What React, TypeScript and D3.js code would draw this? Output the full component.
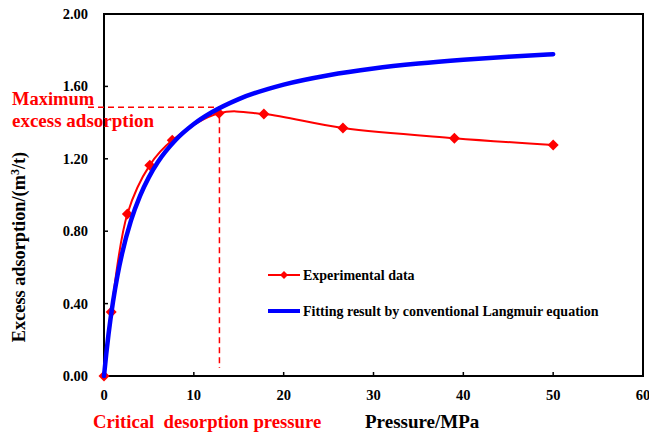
import React from "react";
import * as d3 from "d3";

const expPressure = [0, 0.8, 2.6, 5.1, 7.6, 12.8, 17.8, 26.6, 39.0, 50.0];
const expAdsorption = [0, 0.354, 0.895, 1.165, 1.302, 1.452, 1.447, 1.37, 1.314, 1.276];

const fitPressure = [0, 0.25, 0.5, 1, 1.5, 2, 3, 4, 5, 6, 8, 10, 12, 15, 20, 25, 30, 35, 40, 45, 50];
const fitAdsorption = [0, 0.122, 0.23, 0.41, 0.555, 0.674, 0.858, 0.994, 1.099, 1.182, 1.305, 1.392, 1.457, 1.53, 1.61, 1.662, 1.699, 1.726, 1.747, 1.764, 1.778];

const xTicks = [0, 10, 20, 30, 40, 50, 60];
const yTicks = [0, 0.4, 0.8, 1.2, 1.6, 2.0];

const critical = { p: 12.85, v: 1.485 };

const W = 649;
const H = 434;
const M = { left: 104, right: 6, top: 14, bottom: 58 };
const FONT = "Liberation Serif, Times New Roman, DejaVu Serif, serif";

export default function App() {
  const x = d3.scaleLinear().domain([0, 60]).range([M.left, W - M.right]);
  const y = d3.scaleLinear().domain([0, 2]).range([H - M.bottom, M.top]);

  const expData = expPressure.map((p, i) => [p, expAdsorption[i]] as [number, number]);
  const fitData = fitPressure.map((p, i) => [p, fitAdsorption[i]] as [number, number]);

  const redLine = d3
    .line<[number, number]>()
    .x((d) => x(d[0]))
    .y((d) => y(d[1]))
    .curve(d3.curveCatmullRom.alpha(0.5))(expData)!;
  const blueLine = d3
    .line<[number, number]>()
    .x((d) => x(d[0]))
    .y((d) => y(d[1]))
    .curve(d3.curveMonotoneX)(fitData)!;

  const diamond = (cx: number, cy: number, r: number) =>
    `M${cx},${cy - r}L${cx + r},${cy}L${cx},${cy + r}L${cx - r},${cy}Z`;

  const x0 = x(0);
  const y0 = y(0);
  const ts = { fontFamily: FONT, fontWeight: 700 } as React.CSSProperties;

  return (
    <svg
      width={W}
      height={H}
      style={{ position: "absolute", left: 0, top: 0, background: "#fff", fontFamily: FONT, fontWeight: 700 }}
    >
      <rect x={0} y={0} width={W} height={H} fill="#fff" />
      <rect
        x={x(0)}
        y={y(2)}
        width={x(60) - x(0)}
        height={y(0) - y(2)}
        fill="none"
        stroke="#000"
        strokeWidth={2}
      />
      {xTicks.map((t) => (
        <g key={"xt" + t}>
          <line x1={x(t)} x2={x(t)} y1={y0} y2={y0 - 4} stroke="#000" strokeWidth={1.5} />
          <text x={x(t)} y={y0 + 24} textAnchor="middle" fontSize={14.5} fill="#000" style={ts}>
            {t}
          </text>
        </g>
      ))}
      {yTicks.map((t) => (
        <g key={"yt" + t}>
          <line x1={x0} x2={x0 + 4} y1={y(t)} y2={y(t)} stroke="#000" strokeWidth={1.5} />
          <text x={x0 - 16} y={y(t) + 5} textAnchor="end" fontSize={14.5} fill="#000" style={ts}>
            {t.toFixed(2)}
          </text>
        </g>
      ))}
      <line
        x1={88}
        x2={x(critical.p)}
        y1={y(critical.v)}
        y2={y(critical.v)}
        stroke="#ff0000"
        strokeWidth={1.5}
        strokeDasharray="6,4"
      />
      <line
        x1={x(critical.p)}
        x2={x(critical.p)}
        y1={y(critical.v)}
        y2={y0 - 8}
        stroke="#ff0000"
        strokeWidth={1.5}
        strokeDasharray="6,4"
      />
      <path d={redLine} fill="none" stroke="#ff0000" strokeWidth={2} />
      {expData.map((d, i) => (
        <path key={"m" + i} d={diamond(x(d[0]), y(d[1]), 5.5)} fill="#ff0000" />
      ))}
      <path d={blueLine} fill="none" stroke="#0000ff" strokeWidth={4.5} strokeLinecap="round" />
      <line x1={268} x2={300} y1={275} y2={275} stroke="#ff0000" strokeWidth={2} />
      <path d={diamond(284, 275, 4)} fill="#ff0000" />
      <text x={303} y={280} fontSize={14} fill="#000" style={ts}>
        Experimental data
      </text>
      <line x1={268} x2={300} y1={311} y2={311} stroke="#0000ff" strokeWidth={4} />
      <text x={303} y={316} fontSize={14} fill="#000" style={ts}>
        Fitting result by conventional Langmuir equation
      </text>
      <text x={12} y={105} fontSize={18.5} fill="#ff0000" style={ts}>
        Maximum
      </text>
      <text x={12} y={127} fontSize={19} fill="#ff0000" style={ts}>
        excess adsorption
      </text>
      <text x={93} y={428} fontSize={18.7} fill="#ff0000" style={ts} xmlSpace="preserve">
        Critical  desorption pressure
      </text>
      <text x={365} y={428} fontSize={19} fill="#000" style={ts}>
        Pressure/MPa
      </text>
      <text
        transform={`translate(25,${(y(0) + y(2)) / 2 + 52}) rotate(-90)`}
        textAnchor="middle"
        fontSize={18.3}
        fill="#000"
        style={ts}
      >
        Excess adsorption/(m
        <tspan dy={-6} fontSize={12}>3</tspan>
        <tspan dy={6}>/t)</tspan>
      </text>
    </svg>
  );
}
